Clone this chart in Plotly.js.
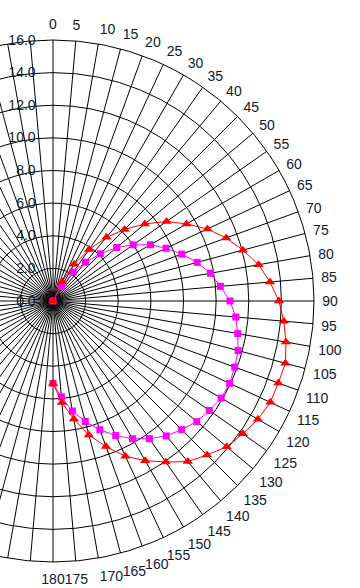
<!DOCTYPE html>
<html>
<head>
<meta charset="utf-8">
<script src="https://cdn.plot.ly/plotly-3.0.1.min.js"></script>
<style>
html,body{margin:0;padding:0;width:360px;height:588px;overflow:hidden;background:#fff;}
#chart{position:absolute;left:-228px;top:0;width:602px;height:588px;}
</style>
</head>
<body>
<div id="chart"></div>
<script>
// Series A (red triangles): angle in degrees, radius
var redTheta = [20, 25, 30, 35, 40, 45, 50, 55, 60, 65, 70, 75, 80, 85, 90, 95, 100, 105, 110, 115, 120, 125, 130, 135, 140, 145, 150, 155, 160, 165, 170, 175, 180];
var redR = [0, 1.3, 2.6, 3.85, 5.1, 6.2, 7.35, 8.5, 9.45, 10.45, 11.3, 12.05, 12.8, 13.35, 13.85, 14.2, 14.5, 14.75, 14.7, 14.7, 14.5, 14.2, 13.9, 13.35, 12.85, 12.05, 11.3, 10.5, 9.5, 8.5, 7.35, 6.25, 5.05];

// Series B (magenta squares)
var magTheta = [25, 30, 35, 40, 45, 50, 55, 60, 65, 70, 75, 80, 85, 90, 95, 100, 105, 110, 115, 120, 125, 130, 135, 140, 145, 150, 155, 160, 165, 170, 175, 180];
var magR = [0, 1.05, 2.15, 3.1, 4.1, 5.1, 6.0, 6.9, 7.65, 8.4, 9.15, 9.8, 10.3, 10.85, 11.25, 11.5, 11.75, 11.85, 11.95, 11.9, 11.7, 11.5, 11.15, 10.8, 10.3, 9.75, 9.1, 8.4, 7.65, 6.85, 5.9, 5.05];

// Axis ticks
var radialTicks = [0, 2, 4, 6, 8, 10, 12, 14, 16];
var radialTickText = ["0.0", "2.0", "4.0", "6.0", "8.0", "10.0", "12.0", "14.0", "16.0"];
var angleTicks = [];
var angleTickText = [];
for (var a = 0; a < 360; a += 5) {
  angleTicks.push(a);
  angleTickText.push(a <= 180 ? String(a) : "");
}

var labelColor = "#0d1a33";

var traces = [
  {
    type: "scatterpolar",
    mode: "lines+markers",
    theta: magTheta,
    r: magR,
    line: {color: "#ff00ff", width: 1},
    marker: {symbol: "square", size: 7, color: "#ff00ff"},
    cliponaxis: false,
    hoverinfo: "skip"
  },
  {
    type: "scatterpolar",
    mode: "lines+markers",
    theta: redTheta,
    r: redR,
    line: {color: "#ff0000", width: 1},
    marker: {symbol: "triangle-up", size: 9, color: "#ff0000"},
    cliponaxis: false,
    hoverinfo: "skip"
  }
];

var layout = {
  width: 602,
  height: 588,
  margin: {l: 20, r: 60, t: 40, b: 26, pad: 0},
  paper_bgcolor: "#ffffff",
  showlegend: false,
  font: {family: "Liberation Sans, Arial, sans-serif", size: 14, color: labelColor},
  polar: {
    domain: {x: [0, 1], y: [0, 1]},
    bgcolor: "#ffffff",
    radialaxis: {
      range: [0, 16],
      tickvals: radialTicks,
      ticktext: radialTickText,
      angle: 90,
      tickangle: 90,
      side: "counterclockwise",
      showline: false,
      ticks: "outside",
      ticklen: 12,
      tickcolor: "rgba(0,0,0,0)",
      gridcolor: "#000000",
      gridwidth: 1,
      tickfont: {size: 14, color: labelColor}
    },
    angularaxis: {
      rotation: 90,
      direction: "clockwise",
      tickvals: angleTicks,
      ticktext: angleTickText,
      ticks: "outside",
      ticklen: 5,
      tickcolor: "rgba(0,0,0,0)",
      showline: true,
      linecolor: "#000000",
      linewidth: 1,
      gridcolor: "#000000",
      gridwidth: 1,
      tickfont: {size: 14, color: labelColor}
    }
  }
};

Plotly.newPlot("chart", traces, layout, {displayModeBar: false, staticPlot: true});
</script>
</body>
</html>
